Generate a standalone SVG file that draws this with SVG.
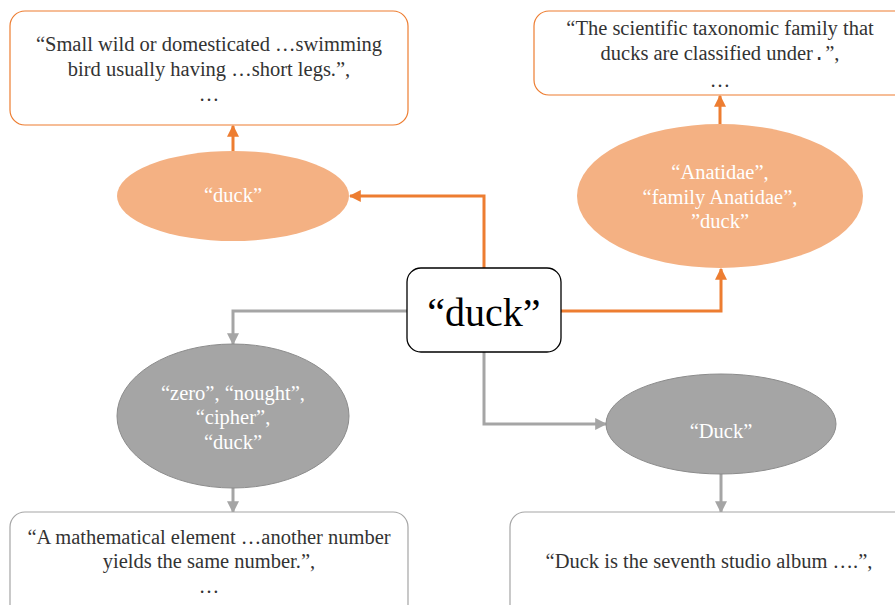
<svg xmlns="http://www.w3.org/2000/svg" width="895" height="605" viewBox="0 0 895 605">
<defs>
<style>
.box{fill:#fff;stroke-width:1.2}
.ob{stroke:#ED7D31}
.gb{stroke:#A5A5A5}
.dt{font-size:20.5px;fill:#333;text-anchor:middle}
.et{font-size:20.5px;fill:#fff;text-anchor:middle}
.oe{fill:#F4B183}
.ge{fill:#A5A5A5;stroke:#8C8C8C;stroke-width:1}
.oc{fill:none;stroke:#ED7D31;stroke-width:3}
.gc{fill:none;stroke:#A5A5A5;stroke-width:3}
</style>
<marker id="ao" viewBox="0 0 10 10" refX="9" refY="5" markerWidth="4" markerHeight="4" orient="auto" markerUnits="strokeWidth"><path d="M0,0L10,5L0,10z" fill="#ED7D31"/></marker>
<marker id="ag" viewBox="0 0 10 10" refX="9" refY="5" markerWidth="4" markerHeight="4" orient="auto" markerUnits="strokeWidth"><path d="M0,0L10,5L0,10z" fill="#A5A5A5"/></marker>
</defs>
<rect width="895" height="605" fill="#fff"/>
<g id="connectors">
<path class="oc" d="M233,151V126" marker-end="url(#ao)"/>
<path class="oc" d="M720,125V96" marker-end="url(#ao)"/>
<path class="oc" d="M484,268V196H350" marker-end="url(#ao)"/>
<path class="oc" d="M561,311H721V269" marker-end="url(#ao)"/>
<path class="gc" d="M407,311H233V344" marker-end="url(#ag)"/>
<path class="gc" d="M233,488V512" marker-end="url(#ag)"/>
<path class="gc" d="M484,352V424H606" marker-end="url(#ag)"/>
<path class="gc" d="M721,474V512" marker-end="url(#ag)"/>
</g>
<g id="def-tl">
<rect class="box ob" x="10" y="11" width="398" height="114" rx="15"/>
<text class="dt" font-family="Liberation Serif" x="209" y="51">“Small wild or domesticated …swimming</text>
<text class="dt" font-family="Liberation Serif" x="209" y="76">bird usually having …short legs.”,</text>
<text class="dt" font-family="Liberation Serif" x="209" y="101">…</text>
</g>
<g id="def-tr">
<rect class="box ob" x="534" y="11" width="380" height="84" rx="15"/>
<text class="dt" font-family="Liberation Serif" x="720" y="35">“The scientific taxonomic family that</text>
<text class="dt" font-family="Liberation Serif" x="720" y="60">ducks are classified under<tspan font-family="Liberation Mono">.</tspan>”,</text>
<text class="dt" font-family="Liberation Serif" x="720" y="87">…</text>
</g>
<g id="ent-tl">
<ellipse class="oe" cx="233" cy="196" rx="116" ry="45"/>
<text class="et" font-family="Liberation Serif" x="233" y="202">“duck”</text>
</g>
<g id="ent-tr">
<ellipse class="oe" cx="720" cy="196" rx="143" ry="72"/>
<text class="et" font-family="Liberation Serif" x="720" y="179">“Anatidae”,</text>
<text class="et" font-family="Liberation Serif" x="720" y="204">“family Anatidae”,</text>
<text class="et" font-family="Liberation Serif" x="720" y="228">”duck”</text>
</g>
<g id="center">
<rect x="407" y="268" width="154" height="84" rx="14" fill="#fff" stroke="#000" stroke-width="1.3"/>
<text font-family="Liberation Serif" x="484" y="326" font-size="40" fill="#000" text-anchor="middle">“duck”</text>
</g>
<g id="ent-bl">
<ellipse class="ge" cx="233" cy="416" rx="116" ry="72"/>
<text class="et" font-family="Liberation Serif" x="233" y="400">“zero”, “nought”,</text>
<text class="et" font-family="Liberation Serif" x="233" y="424">“cipher”,</text>
<text class="et" font-family="Liberation Serif" x="233" y="449">“duck”</text>
</g>
<g id="ent-br">
<ellipse class="ge" cx="721" cy="424" rx="115" ry="50"/>
<text class="et" font-family="Liberation Serif" x="721" y="438">“Duck”</text>
</g>
<g id="def-bl">
<rect class="box gb" x="10" y="512" width="398" height="110" rx="15"/>
<text class="dt" font-family="Liberation Serif" x="209" y="544">“A mathematical element …another number</text>
<text class="dt" font-family="Liberation Serif" x="209" y="568">yields the same number.”,</text>
<text class="dt" font-family="Liberation Serif" x="209" y="593">…</text>
</g>
<g id="def-br">
<rect class="box gb" x="510" y="512" width="400" height="110" rx="15"/>
<text class="dt" font-family="Liberation Serif" x="709" y="568">“Duck is the seventh studio album ….”,</text>
</g>
</svg>
